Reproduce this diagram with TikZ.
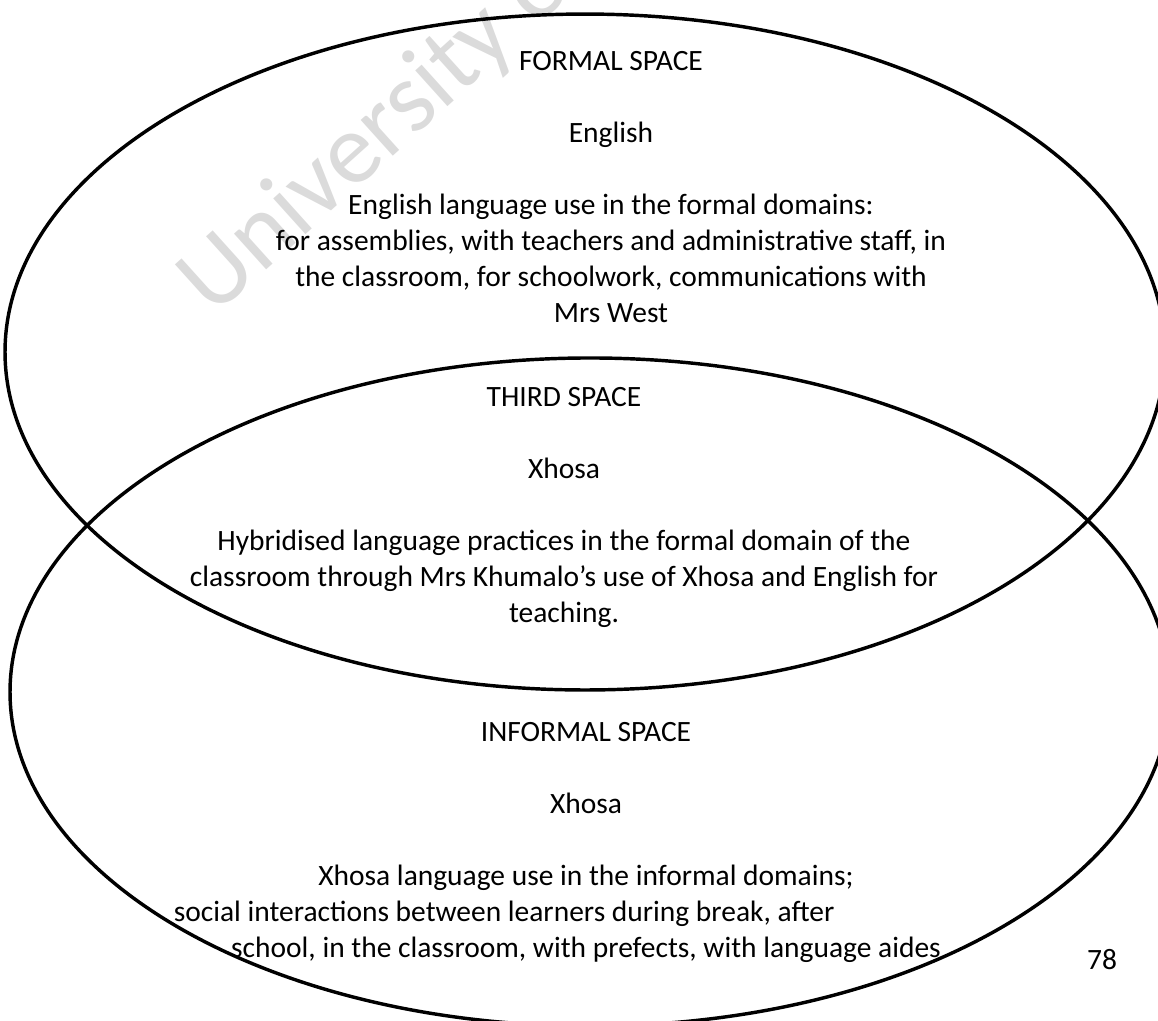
\documentclass[tikz,border=0pt]{standalone}
\usepackage{fontspec}
\setmainfont{Carlito}
\usetikzlibrary{shapes.geometric}

\begin{document}
\begin{tikzpicture}[x=0.407pt, y=-0.407pt, font=\fontsize{12}{14.65}\selectfont]
  \tikzset{
    spaceoval/.style={
      draw=black,
      ellipse,
      line width=1.4pt,
      inner sep=0pt},
    spacetext/.style={
      anchor=base,
      align=center,
      inner sep=0pt},
    watermark/.style={
      text=black!14,
      font=\fontsize{41}{41}\selectfont,
      anchor=base west,
      inner sep=0pt}}

  \useasboundingbox (0,0) rectangle (1158,1020);

  \node[watermark, rotate=42] (wmark) at (213,318) {University of};

  \node[spaceoval, minimum width=472.1pt, minimum height=275.1pt] (formal) at (585,352) {};
  \node[spaceoval, minimum width=472.1pt, minimum height=271.9pt] (informal) at (590,692) {};

  % formal space (base = last line of a block)
  \node[spacetext] (formaltitle) at (611,70) {FORMAL SPACE};
  \node[spacetext] (formallang) at (611,142) {English};
  \node[spacetext] (formaltext) at (611,322) {English language use in the formal domains:\\
    for assemblies, with teachers and administrative staff, in\\
    the classroom, for schoolwork, communications with\\
    Mrs West};

  % third space
  \node[spacetext] (thirdtitle) at (564,406) {THIRD SPACE};
  \node[spacetext] (thirdlang) at (564,478) {Xhosa};
  \node[spacetext] (thirdtext) at (564,622) {Hybridised language practices in the formal domain of the\\
    classroom through Mrs Khumalo’s use of Xhosa and English for\\
    teaching.};

  % informal space
  \node[spacetext] (informaltitle) at (586,741) {INFORMAL SPACE};
  \node[spacetext] (informallang) at (586,813) {Xhosa};
  \node[spacetext] (informaltext) at (586,957) {Xhosa language use in the informal domains;\\
    social interactions between learners during break, after\hbox to 66.7pt{}\\
    school, in the classroom, with prefects, with language aides};

  \node[spacetext] (pagenum) at (1102,969) {78};

\end{tikzpicture}
\end{document}
